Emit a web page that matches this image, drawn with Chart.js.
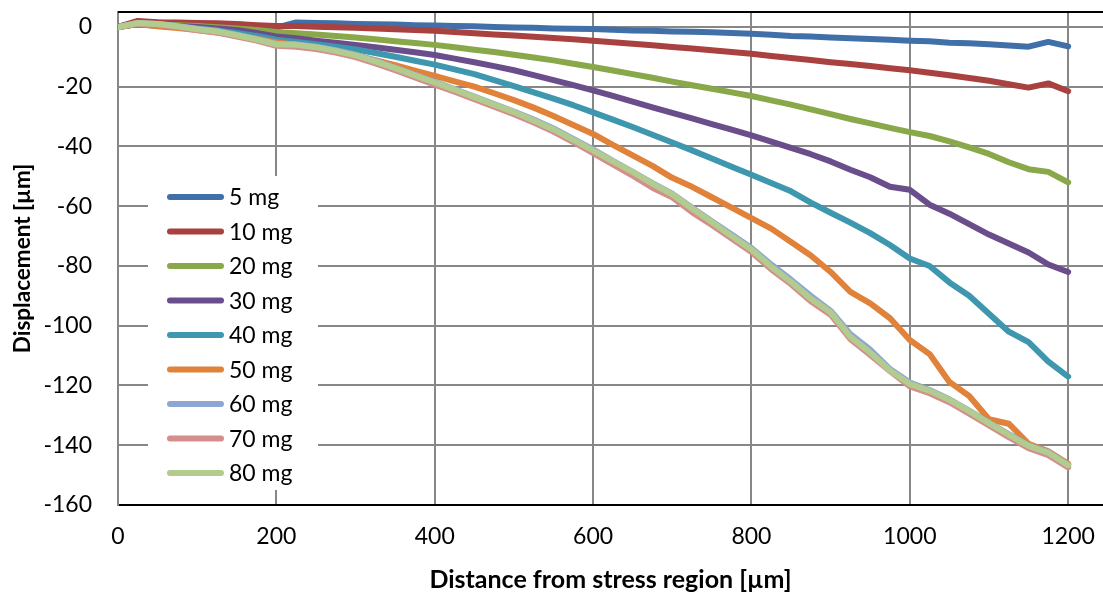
<!DOCTYPE html>
<html>
<head>
<meta charset="utf-8">
<script src="https://cdn.jsdelivr.net/npm/chart.js@4.4.1/dist/chart.umd.min.js"></script>
<style>
  body { margin: 0; background: #fff; }
  #wrap { width: 1103px; height: 595px; }
</style>
</head>
<body>
<div id="wrap"><canvas id="grafico" width="1103" height="595"></canvas></div>
<script>
// distance from stress region [µm], one reading every 25 µm
const distancia = [0, 25, 50, 75, 100, 125, 150, 175, 200, 225, 250, 275, 300, 325, 350, 375, 400, 425, 450, 475,
    500, 525, 550, 575, 600, 625, 650, 675, 700, 725, 750, 775, 800, 825, 850, 875, 900, 925, 950, 975,
    1000, 1025, 1050, 1075, 1100, 1125, 1150, 1175, 1200];

const cargas = ['5 mg', '10 mg', '20 mg', '30 mg', '40 mg', '50 mg', '60 mg', '70 mg', '80 mg'];

const d5 = [0, 1.6, 1.4, 1.2, 1.0, 0.9, 0.8, 0.4, -0.2, 1.5, 1.3, 1.2, 1.0, 0.9, 0.8, 0.6, 0.5, 0.3, 0.2, 0,
    -0.2, -0.3, -0.5, -0.6, -0.7, -0.9, -1.2, -1.3, -1.5, -1.6, -1.8, -2.0, -2.3, -2.6, -3.0, -3.2, -3.5, -3.8, -4.0, -4.3,
    -4.6, -4.8, -5.3, -5.5, -5.8, -6.2, -6.6, -5.0, -6.5];
const d10 = [0, 2.0, 1.6, 1.5, 1.3, 1.2, 1.0, 0.6, 0.3, 0.3, 0.1, -0.1, -0.3, -0.5, -0.8, -1.0, -1.3, -1.7, -2.1, -2.5,
    -2.9, -3.3, -3.7, -4.1, -4.6, -5.1, -5.6, -6.1, -6.7, -7.2, -7.8, -8.4, -9.0, -9.7, -10.4, -11.1, -11.8, -12.4, -13.1, -13.8,
    -14.5, -15.3, -16.2, -17.1, -18.0, -19.2, -20.3, -18.9, -21.5];
const d20 = [0, 1.0, 0.8, 0.6, 0.3, -0.1, -0.5, -1.0, -1.7, -2.1, -2.5, -3.0, -3.5, -4.1, -4.8, -5.4, -6.0, -6.8, -7.6, -8.4,
    -9.3, -10.2, -11.2, -12.3, -13.4, -14.6, -15.8, -17.0, -18.3, -19.5, -20.7, -21.9, -23.1, -24.6, -26.0, -27.6, -29.2, -30.8, -32.3, -33.8,
    -35.2, -36.5, -38.3, -40.3, -42.5, -45.3, -47.6, -48.5, -52.0];
const d30 = [0, 1.0, 0.6, 0.3, 0, -0.5, -1.0, -2.0, -3.2, -3.8, -4.6, -5.3, -6.0, -6.8, -7.6, -8.5, -9.4, -10.6, -11.8, -13.1,
    -14.5, -16.1, -17.8, -19.5, -21.2, -23.1, -25.0, -26.9, -28.8, -30.6, -32.5, -34.4, -36.3, -38.4, -40.5, -42.6, -45.0, -47.8, -50.3, -53.5,
    -54.5, -59.5, -62.5, -66.0, -69.5, -72.5, -75.5, -79.5, -82.0];
const d40 = [0, 1.0, 0.3, 0, -0.5, -1.2, -2.0, -3.0, -4.3, -5.0, -5.8, -6.6, -7.5, -8.7, -10.0, -11.3, -12.6, -14.2, -15.8, -17.8,
    -19.8, -21.9, -24.0, -26.2, -28.6, -31.0, -33.5, -36.1, -38.7, -41.3, -44.0, -46.8, -49.5, -52.2, -55.0, -58.8, -62.2, -65.5, -69.0, -73.0,
    -77.5, -80.0, -85.5, -90.0, -96.0, -102.0, -105.5, -112.0, -117.0];
const d50 = [0, 1.0, 0.2, -0.4, -1.0, -1.9, -2.8, -3.9, -5.1, -6.0, -7.0, -8.2, -9.5, -11.1, -12.8, -14.6, -16.4, -18.2, -20.0, -22.2,
    -24.5, -27.0, -29.8, -32.8, -35.8, -39.5, -43.0, -46.5, -50.5, -53.5, -57.0, -60.5, -64.0, -67.5, -72.0, -76.5, -82.0, -88.7, -92.5, -97.5,
    -104.8, -109.5, -118.8, -123.5, -131.3, -132.8, -139.5, -142.0, -146.2];
const d60 = [0, 1.3, 1.0, 0.3, -0.6, -1.3, -2.6, -4.0, -5.6, -5.8, -6.6, -7.8, -9.3, -11.3, -13.6, -16.0, -18.4, -20.8, -23.3, -25.8,
    -28.3, -31.0, -34.0, -37.5, -41.0, -44.8, -48.5, -52.3, -55.8, -60.5, -65.0, -69.5, -74.0, -79.5, -84.6, -90.0, -95.0, -102.8, -108.0, -114.5,
    -119.0, -121.5, -124.6, -128.4, -132.4, -136.3, -140.0, -142.3, -146.5];
const d70 = [0, 1.1, 0.8, 0, -1.1, -1.9, -3.2, -4.6, -6.3, -6.6, -7.4, -8.6, -10.1, -12.2, -14.5, -16.9, -19.3, -21.7, -24.2, -26.7,
    -29.2, -32.0, -35.0, -38.5, -42.2, -46.0, -49.8, -53.8, -57.0, -62.0, -66.3, -70.8, -75.3, -81.1, -86.1, -91.8, -96.3, -104.5, -109.8, -115.2,
    -120.3, -122.6, -125.6, -129.4, -133.4, -137.3, -141.0, -143.3, -147.4];
const d80 = [0, 1.3, 1.0, 0.2, -0.8, -1.5, -2.8, -4.2, -5.8, -6.0, -6.8, -8.0, -9.5, -11.5, -13.8, -16.2, -18.6, -21.0, -23.5, -26.0,
    -28.5, -31.3, -34.3, -37.8, -41.3, -45.0, -48.5, -52.5, -56.0, -60.8, -65.3, -70.0, -74.5, -80.3, -85.3, -91.0, -95.5, -103.7, -109.0, -115.0,
    -119.5, -121.8, -124.8, -128.6, -132.6, -136.5, -140.2, -142.5, -146.7];

const series = [d5, d10, d20, d30, d40, d50, d60, d70, d80];
const cores = ['#4170A8', '#A8413F', '#88A84A', '#6A4E8C', '#3E97AF', '#E0823A', '#8EA7D2', '#D48E8C', '#B2CB8F'];

const eixoX = [0, 200, 400, 600, 800, 1000, 1200];
const eixoY = [0, -20, -40, -60, -80, -100, -120, -140, -160];

const fonte = 'Lato, "Open Sans", sans-serif';

// legend drawn inside the plot, on a white box like the original
const legendaDentro = {
    id: 'legendaDentro',
    afterDatasetsDraw(chart) {
        const ctx = chart.ctx;
        const area = chart.chartArea;
        ctx.save();
        // top border of the plot
        ctx.strokeStyle = '#000';
        ctx.lineWidth = 2;
        ctx.beginPath();
        ctx.moveTo(area.left, area.top);
        ctx.lineTo(area.right, area.top);
        ctx.stroke();

        ctx.fillStyle = '#fff';
        ctx.fillRect(148, 176, 170, 314);
        ctx.font = '23px ' + fonte;
        ctx.textBaseline = 'middle';
        chart.data.datasets.forEach((ds, i) => {
            const y = 197 + i * 34.5;
            ctx.strokeStyle = ds.borderColor;
            ctx.lineWidth = 6;
            ctx.lineCap = 'round';
            ctx.beginPath();
            ctx.moveTo(170, y);
            ctx.lineTo(221, y);
            ctx.stroke();
            ctx.fillStyle = '#000';
            ctx.fillText(ds.label, 229, y + 1);
        });
        ctx.restore();
    }
};

new Chart(document.getElementById('grafico').getContext('2d'), {
    type: 'line',
    data: {
        labels: distancia,
        datasets: series.map((s, i) => ({
            label: cargas[i],
            data: s,
            borderColor: cores[i],
            backgroundColor: cores[i],
            borderWidth: 6,
            pointRadius: 0,
            tension: 0,
            borderCapStyle: 'round',
            borderJoinStyle: 'round',
            order: series.length - i
        }))
    },
    options: {
        responsive: false,
        animation: false,
        layout: {padding: {top: 12, left: 0, right: 0, bottom: 0}},
        plugins: {
            legend: {display: false},
            tooltip: {enabled: false}
        },
        scales: {
            x: {
                type: 'linear',
                min: 0,
                max: 1244,
                afterBuildTicks: axis => { axis.ticks = eixoX.map(v => ({value: v})); },
                afterFit: axis => { axis.height = 90; axis.paddingRight = 0; },
                ticks: {
                    color: '#000',
                    padding: 18,
                    maxRotation: 0,
                    font: {family: fonte, size: 23},
                    callback: value => String(value)
                },
                grid: {color: '#878787', lineWidth: 2, drawTicks: false},
                border: {color: '#000', width: 2},
                title: {
                    display: true,
                    text: 'Distance from stress region [µm]',
                    color: '#000',
                    font: {family: fonte, size: 25, weight: 'bold'},
                    padding: {top: 0, bottom: 0}
                }
            },
            y: {
                min: -160,
                max: 5,
                afterBuildTicks: axis => { axis.ticks = eixoY.map(v => ({value: v})); },
                afterFit: axis => { axis.width = 118; axis.paddingTop = 0; axis.paddingBottom = 0; },
                ticks: {
                    color: '#000',
                    padding: 0,
                    font: {family: fonte, size: 23},
                    callback: value => String(value)
                },
                grid: {color: '#878787', lineWidth: 2, drawTicks: true, tickLength: 26, tickColor: 'rgba(0,0,0,0)'},
                border: {color: '#878787', width: 2},
                title: {
                    display: true,
                    text: 'Displacement [µm]',
                    color: '#000',
                    font: {family: fonte, size: 22.5, weight: 'bold'},
                    padding: {top: 9, bottom: 0}
                }
            }
        }
    },
    plugins: [legendaDentro]
});
</script>
</body>
</html>
